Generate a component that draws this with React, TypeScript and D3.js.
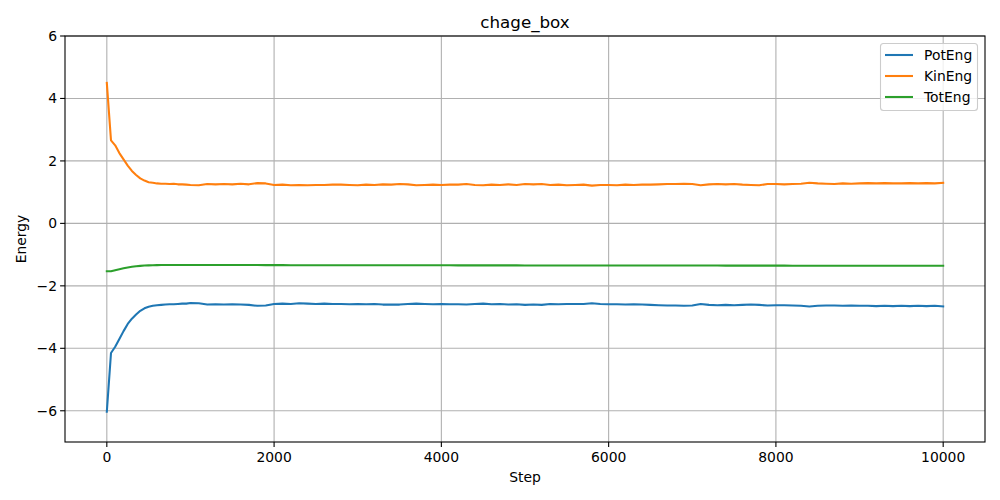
import React from "react";
import * as d3 from "d3";

const steps: number[] = [
  0, 50, 100, 150, 200, 250, 300, 350, 400, 450, 500, 550, 600, 650, 700, 750, 800, 850, 900, 950,
  1000, 1100, 1200, 1300, 1400, 1500, 1600, 1700, 1800, 1900,
  2000, 2100, 2200, 2300, 2400, 2500, 2600, 2700, 2800, 2900,
  3000, 3100, 3200, 3300, 3400, 3500, 3600, 3700, 3800, 3900,
  4000, 4100, 4200, 4300, 4400, 4500, 4600, 4700, 4800, 4900,
  5000, 5100, 5200, 5300, 5400, 5500, 5600, 5700, 5800, 5900,
  6000, 6100, 6200, 6300, 6400, 6500, 6600, 6700, 6800, 6900,
  7000, 7100, 7200, 7300, 7400, 7500, 7600, 7700, 7800, 7900,
  8000, 8100, 8200, 8300, 8400, 8500, 8600, 8700, 8800, 8900,
  9000, 9100, 9200, 9300, 9400, 9500, 9600, 9700, 9800, 9900,
  10000,
];

const potEng: number[] = [
  -6.03, -4.15, -3.95, -3.7, -3.45, -3.22, -3.05, -2.92, -2.8, -2.72, -2.67, -2.64, -2.62, -2.61, -2.6, -2.59, -2.59, -2.58, -2.57, -2.57,
  -2.55, -2.56, -2.6, -2.59, -2.6, -2.59, -2.6, -2.61, -2.64, -2.63,
  -2.58, -2.57, -2.58, -2.56, -2.57, -2.58, -2.57, -2.58, -2.58, -2.59,
  -2.58, -2.59, -2.58, -2.6, -2.6, -2.6, -2.58, -2.57, -2.58, -2.59,
  -2.58, -2.59, -2.59, -2.6, -2.58, -2.57, -2.59, -2.58, -2.6, -2.59,
  -2.61, -2.6, -2.61, -2.58, -2.59, -2.58, -2.58, -2.58, -2.56, -2.58,
  -2.59, -2.59, -2.6, -2.59, -2.6, -2.61, -2.62, -2.63, -2.63, -2.64,
  -2.63, -2.58, -2.61, -2.62, -2.61, -2.62, -2.61, -2.6, -2.61, -2.63,
  -2.62, -2.62, -2.63, -2.64, -2.66, -2.64, -2.63, -2.63, -2.64, -2.63,
  -2.64, -2.64, -2.65, -2.64, -2.65, -2.64, -2.65, -2.64, -2.65, -2.64,
  -2.66,
];

const kinEng: number[] = [
  4.5, 2.66, 2.5, 2.25, 2.05, 1.85, 1.68, 1.55, 1.44, 1.37, 1.32, 1.3, 1.28, 1.27, 1.27, 1.26, 1.27, 1.25, 1.25, 1.24,
  1.23, 1.22, 1.26, 1.25, 1.26, 1.25, 1.27, 1.25, 1.29, 1.28,
  1.23, 1.24, 1.22, 1.23, 1.22, 1.23, 1.23, 1.24, 1.24, 1.23,
  1.22, 1.24, 1.23, 1.25, 1.24, 1.26, 1.25, 1.22, 1.23, 1.24,
  1.23, 1.24, 1.24, 1.26, 1.23, 1.22, 1.24, 1.23, 1.25, 1.23,
  1.26, 1.25, 1.26, 1.23, 1.24, 1.22, 1.23, 1.24, 1.21, 1.23,
  1.23, 1.22, 1.24, 1.23, 1.24, 1.24, 1.25, 1.26, 1.26, 1.27,
  1.26, 1.22, 1.25, 1.26, 1.25, 1.26, 1.24, 1.23, 1.22, 1.26,
  1.26, 1.25, 1.26, 1.27, 1.3, 1.28, 1.27, 1.26, 1.28, 1.27,
  1.28, 1.29, 1.28, 1.29, 1.28, 1.28, 1.29, 1.28, 1.29, 1.28,
  1.3,
];

const totEng: number[] = [
  -1.53, -1.53, -1.5, -1.47, -1.44, -1.41, -1.39, -1.37, -1.36, -1.35, -1.345, -1.34, -1.337, -1.335, -1.333, -1.332, -1.331, -1.331, -1.33, -1.33,
  -1.33, -1.33, -1.331, -1.331, -1.332, -1.332, -1.333, -1.334, -1.335, -1.336,
  -1.337, -1.337, -1.338, -1.338, -1.338, -1.339, -1.339, -1.339, -1.34, -1.34,
  -1.34, -1.34, -1.341, -1.341, -1.341, -1.342, -1.342, -1.342, -1.343, -1.343,
  -1.343, -1.343, -1.344, -1.344, -1.344, -1.344, -1.345, -1.345, -1.345, -1.345,
  -1.346, -1.346, -1.346, -1.346, -1.347, -1.347, -1.347, -1.347, -1.348, -1.348,
  -1.348, -1.348, -1.349, -1.349, -1.349, -1.349, -1.35, -1.35, -1.35, -1.35,
  -1.351, -1.351, -1.351, -1.351, -1.352, -1.352, -1.352, -1.352, -1.353, -1.353,
  -1.353, -1.353, -1.354, -1.354, -1.354, -1.354, -1.355, -1.355, -1.355, -1.355,
  -1.356, -1.356, -1.356, -1.356, -1.357, -1.357, -1.357, -1.357, -1.358, -1.358,
  -1.358,
];

const xTicks: number[] = [0, 2000, 4000, 6000, 8000, 10000];
const yTicks: number[] = [-6, -4, -2, 0, 2, 4, 6];

const seriesNames = ["PotEng", "KinEng", "TotEng"];
const seriesColors = ["#1f77b4", "#ff7f0e", "#2ca02c"];
const seriesData = [potEng, kinEng, totEng];

const W = 1000;
const H = 500;
const left = 65;
const right = 985;
const top = 36;
const bottom = 442;
const FONT = "'DejaVu Sans', sans-serif";

export default function App() {
  const x = d3.scaleLinear().domain([-500, 10500]).range([left, right]);
  const y = d3.scaleLinear().domain([-7, 6]).range([bottom, top]);

  const line = (vals: number[]) =>
    d3
      .line<number>()
      .x((_, i) => x(steps[i]))
      .y((d) => y(d))(vals) as string;

  return (
    <div style={{ position: "absolute", left: 0, top: 0 }}>
      <svg width={W} height={H} style={{ display: "block", background: "#fff" }}>
        <rect x={0} y={0} width={W} height={H} fill="#fff" />
        <defs>
          <clipPath id="plotclip">
            <rect x={left} y={top} width={right - left} height={bottom - top} />
          </clipPath>
        </defs>
        {xTicks.map((t) => (
          <line key={"gx" + t} x1={x(t)} x2={x(t)} y1={top} y2={bottom} stroke="#b0b0b0" strokeWidth={1.1} />
        ))}
        {yTicks.map((t) => (
          <line key={"gy" + t} x1={left} x2={right} y1={y(t)} y2={y(t)} stroke="#b0b0b0" strokeWidth={1.1} />
        ))}
        <g clipPath="url(#plotclip)">
          {seriesData.map((vals, i) => (
            <path
              key={seriesNames[i]}
              d={line(vals)}
              fill="none"
              stroke={seriesColors[i]}
              strokeWidth={2.08}
              strokeLinejoin="round"
              strokeLinecap="square"
            />
          ))}
        </g>
        <rect x={left} y={top} width={right - left} height={bottom - top} fill="none" stroke="#000" strokeWidth={1.1} />
        {xTicks.map((t) => (
          <g key={"xt" + t}>
            <line x1={x(t)} x2={x(t)} y1={bottom} y2={bottom + 4.9} stroke="#000" strokeWidth={1.1} />
            <text x={x(t)} y={bottom + 20} textAnchor="middle" fontFamily={FONT} fontSize={13.9} fill="#000">
              {t}
            </text>
          </g>
        ))}
        {yTicks.map((t) => (
          <g key={"yt" + t}>
            <line x1={left - 4.9} x2={left} y1={y(t)} y2={y(t)} stroke="#000" strokeWidth={1.1} />
            <text x={left - 8} y={y(t)} dy="0.35em" textAnchor="end" fontFamily={FONT} fontSize={13.9} fill="#000">
              {t < 0 ? "\u2212" + Math.abs(t) : String(t)}
            </text>
          </g>
        ))}
        <text x={(left + right) / 2} y={482} textAnchor="middle" fontFamily={FONT} fontSize={13.9} fill="#000">
          Step
        </text>
        <text
          transform={`translate(26, ${(top + bottom) / 2}) rotate(-90)`}
          textAnchor="middle"
          fontFamily={FONT}
          fontSize={13.9}
          fill="#000"
        >
          Energy
        </text>
        <text x={(left + right) / 2} y={28} textAnchor="middle" fontFamily={FONT} fontSize={16.7} fill="#000">
          chage_box
        </text>
        <rect x={880.5} y={43.5} width={97} height={67} rx={3} fill="#fff" fillOpacity={0.8} stroke="#cccccc" strokeWidth={1.1} />
        {seriesNames.map((n, i) => (
          <g key={"lg" + n}>
            <line x1={885} x2={913} y1={55 + i * 21} y2={55 + i * 21} stroke={seriesColors[i]} strokeWidth={2.08} />
            <text x={924} y={55 + i * 21} dy="0.35em" fontFamily={FONT} fontSize={13.9} fill="#000">
              {n}
            </text>
          </g>
        ))}
      </svg>
    </div>
  );
}
